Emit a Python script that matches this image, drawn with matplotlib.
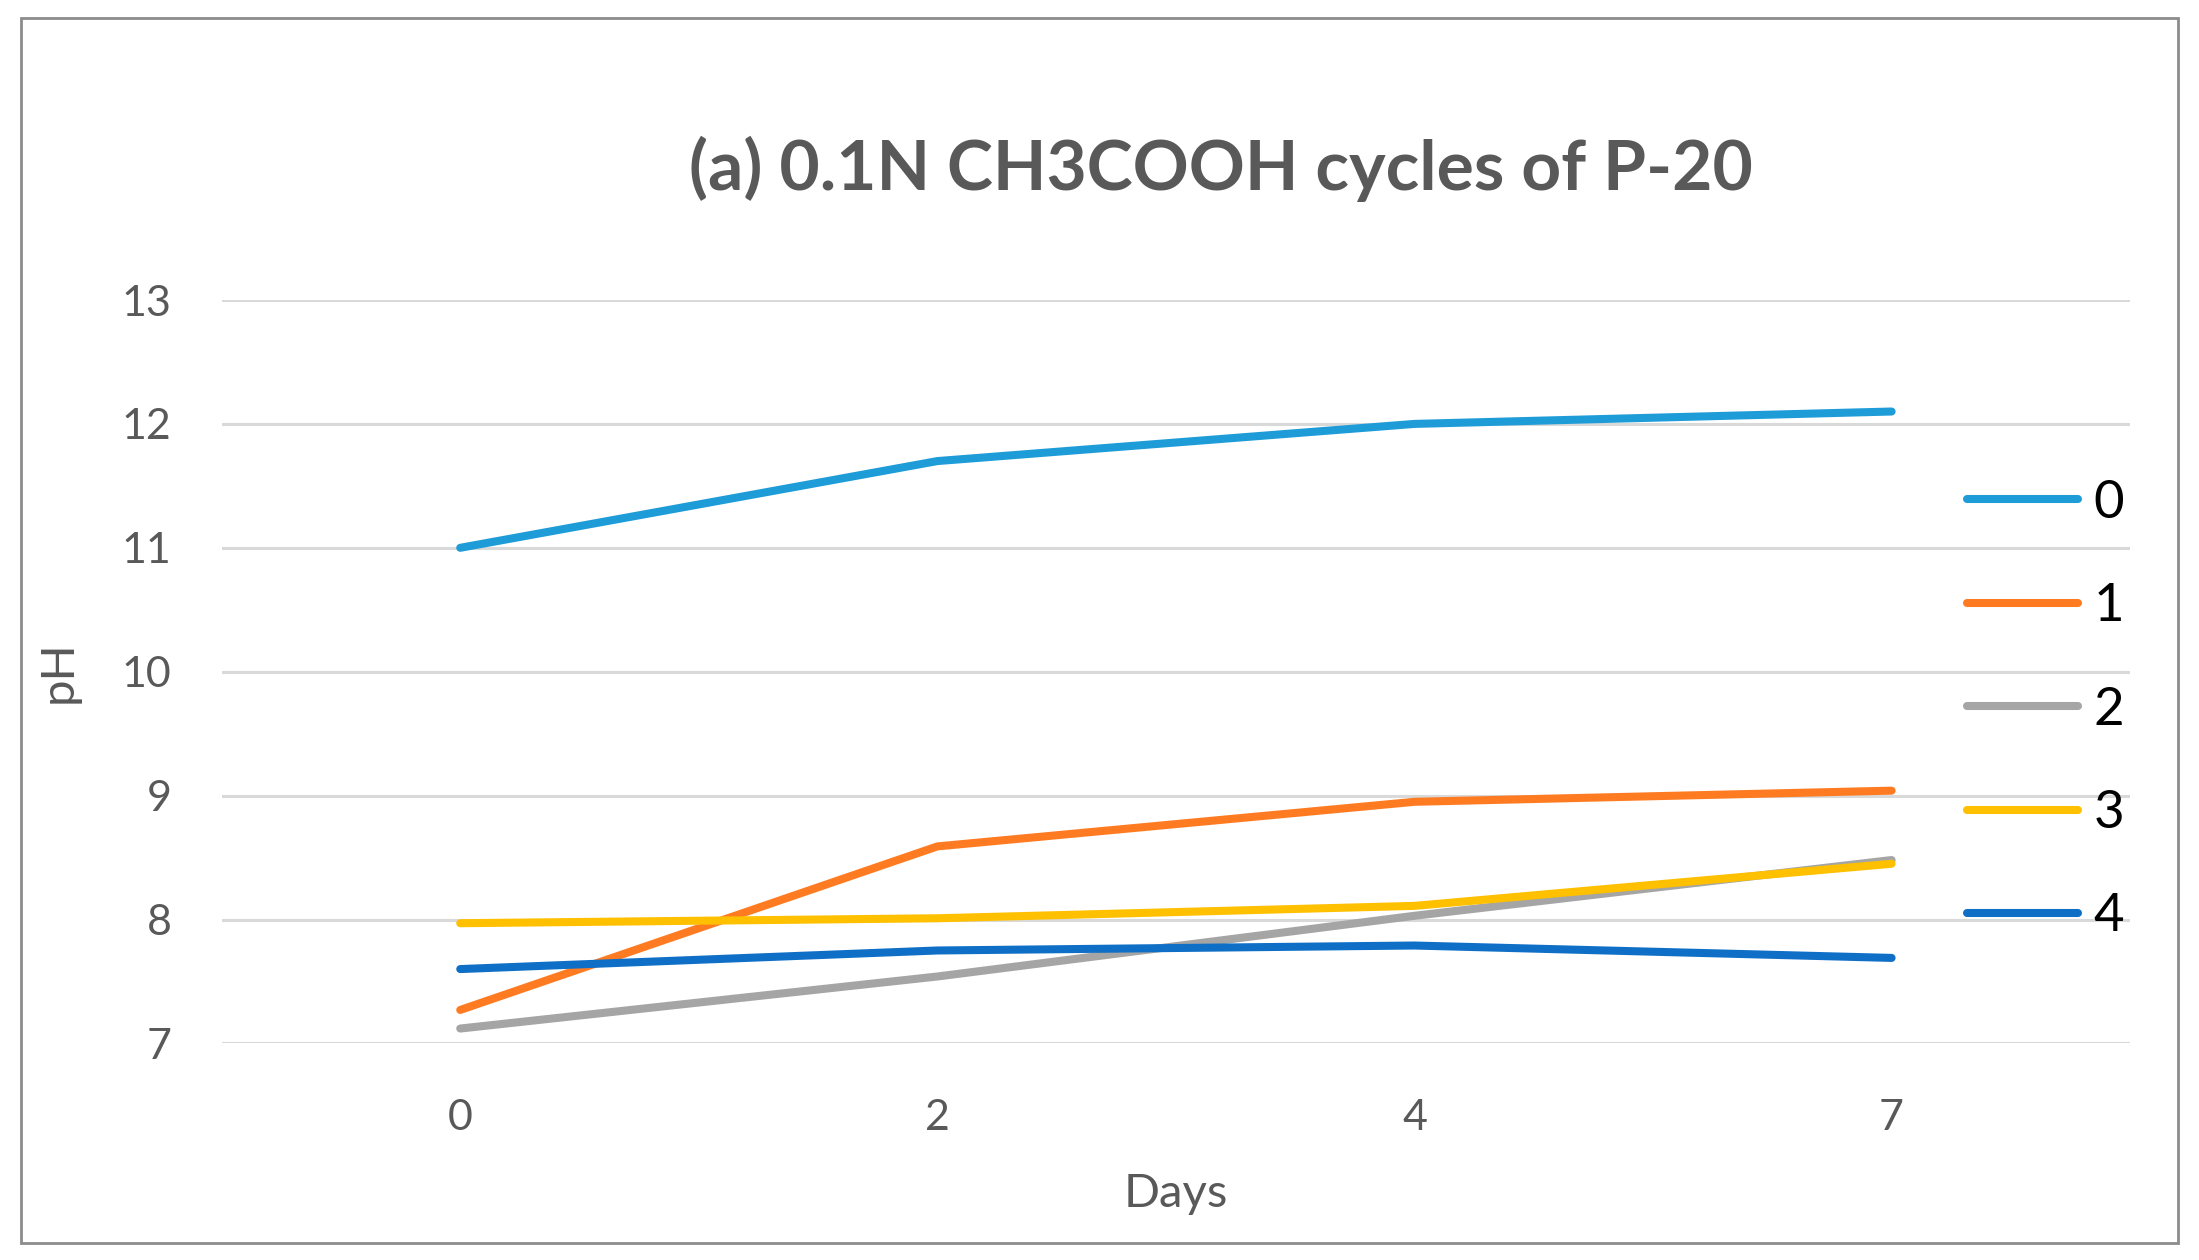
import matplotlib
matplotlib.use('Agg')
import matplotlib.pyplot as plt
from matplotlib.patches import Rectangle

days = ['0', '2', '4', '7']
cycles = ['0', '1', '2', '3', '4']
ph_0 = [11.0, 11.7, 12.0, 12.1]
ph_1 = [7.27, 8.59, 8.95, 9.04]
ph_2 = [7.12, 7.54, 8.03, 8.48]
ph_3 = [7.97, 8.01, 8.11, 8.45]
ph_4 = [7.60, 7.75, 7.79, 7.69]
yticks = [7, 8, 9, 10, 11, 12, 13]

colors = ['#1E9CD8', '#FF7B22', '#A5A5A5', '#FFC000', '#0F6FC6']
series = [ph_0, ph_1, ph_2, ph_3, ph_4]

plt.rcParams['font.family'] = ['Lato', 'DejaVu Sans']

fig = plt.figure(figsize=(21.99, 12.6), dpi=100)
ax = fig.add_axes([0.1008, 0.1719, 0.8679, 0.5900])

x = list(range(len(days)))
for vals, lab, c in zip(series, cycles, colors):
    ax.plot(x, vals, color=c, lw=5.8, label=lab, solid_capstyle='round',
            solid_joinstyle='round')

ax.set_xlim(-0.5, len(days) - 0.5)
ax.set_ylim(7, 13)
ax.set_xticks(x)
ax.set_xticklabels(days)
ax.set_yticks(yticks)
ax.grid(axis='y', color='#D9D9D9', lw=2.2)
ax.set_axisbelow(True)
for s in ax.spines.values():
    s.set_visible(False)
ax.tick_params(length=0, labelsize=31, labelcolor='#595959')
ax.tick_params(axis='y', pad=36)
ax.tick_params(axis='x', pad=40)

ax.set_xlabel('Days', fontsize=34, color='#595959', labelpad=26)
ax.set_ylabel('pH', fontsize=34, color='#595959', labelpad=30)

fig.text(0.555, 0.866, '(a) 0.1N CH3COOH cycles of P-20', ha='center', va='center',
         fontsize=50, fontweight='bold', color='#595959')

fig.legend(loc='center left', bbox_to_anchor=(0.8825, 0.4365), frameon=False,
           fontsize=38, handlelength=2.1, handletextpad=0.3, labelspacing=1.07,
           borderpad=0, labelcolor='black')

fig.patches.append(Rectangle((0.0095, 0.0135), 0.981, 0.9725, transform=fig.transFigure,
                             fill=False, edgecolor='#8C8C8C', lw=2))

fig.savefig('out.png', dpi=100, facecolor='white')
